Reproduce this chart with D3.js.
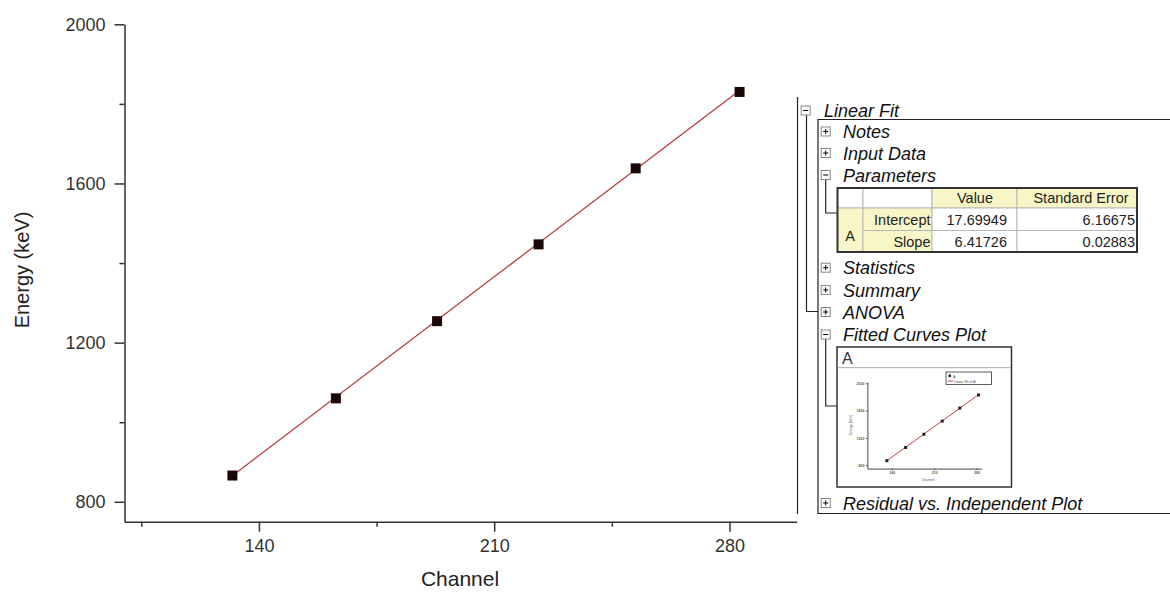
<!DOCTYPE html>
<html><head><meta charset="utf-8">
<script src="https://cdn.jsdelivr.net/npm/d3@7"></script>
<style>
html,body{margin:0;padding:0;background:#fff;}
svg{display:block;font-family:Arial,"Liberation Sans",sans-serif;}
</style></head><body>
<svg id="c" width="1170" height="593"></svg>
<script>
// ---- data ----
const channels = [132.1, 162.9, 193.0, 223.2, 252.1, 283.0];
const energies = [866, 1060, 1254, 1447, 1638, 1830];
const yTicks = [800, 1200, 1600, 2000];
const yMinorTicks = [1000, 1400, 1800];
const xTicks = [140, 210, 280];
const xMinorTicks = [105, 175, 245];
const paramNames = ["Intercept", "Slope"];
const paramValues = ["17.69949", "6.41726"];
const paramErrors = ["6.16675", "0.02883"];
const tableHeader = ["", "", "Value", "Standard Error"];
const tableGroup = "A";
const treeLabels = ["Linear Fit", "Notes", "Input Data", "Parameters", "Statistics", "Summary", "ANOVA", "Fitted Curves Plot", "Residual vs. Independent Plot"];
const treeExpanded = [true, false, false, true, false, false, false, true, false];
const xTitle = "Channel";
const yTitle = "Energy (keV)";
const miniTitle = "A";
const legendLabels = ["A", "Linear Fit of A"];

const intercept = +paramValues[0], slope = +paramValues[1];
const fmt = d3.format("d");

const svg = d3.select("#c");
svg.append("rect").attr("width",1170).attr("height",593).attr("fill","#fff");

// ---- main chart ----
const x = d3.scaleLinear().domain([100, 300]).range([124.5, 796.7]);
const y = d3.scaleLinear().domain([750, 2000]).range([521.7, 24.3]);
const axisColor = "#333";

const gy = svg.append("g").attr("transform", `translate(${x(100)},0)`)
  .call(d3.axisLeft(y).tickValues(yTicks).tickFormat(fmt).tickSize(10).tickSizeOuter(0).tickPadding(9));
const gym = svg.append("g").attr("transform", `translate(${x(100)},0)`)
  .call(d3.axisLeft(y).tickValues(yMinorTicks).tickSize(5).tickFormat(""));
gym.select(".domain").remove();
const gx = svg.append("g").attr("transform", `translate(0,${y(750)})`)
  .call(d3.axisBottom(x).tickValues(xTicks).tickFormat(fmt).tickSize(10).tickSizeOuter(0).tickPadding(8));
const gxm = svg.append("g").attr("transform", `translate(0,${y(750)})`)
  .call(d3.axisBottom(x).tickValues(xMinorTicks).tickSize(5).tickFormat(""));
gxm.select(".domain").remove();
[gy, gym, gx, gxm].forEach(g => {
  g.selectAll("path,line").attr("stroke", axisColor).attr("stroke-width", 1.5);
  g.selectAll("text").attr("fill", "#333").attr("font-size", 18).attr("font-family", "Arial, 'Liberation Sans', sans-serif");
});

// fit line
const xMin = d3.min(channels), xMax = d3.max(channels);
svg.append("line")
  .attr("x1", x(xMin)).attr("y1", y(intercept + slope * xMin))
  .attr("x2", x(xMax)).attr("y2", y(intercept + slope * xMax))
  .attr("stroke", "#b03a3a").attr("stroke-width", 1.2);

svg.append("g").selectAll("rect").data(channels).join("rect")
  .attr("x", (d) => x(d) - 5).attr("y", (d, i) => y(energies[i]) - 5)
  .attr("width", 10).attr("height", 10).attr("fill", "#1a0808");

svg.append("text").attr("x", 460).attr("y", 586).attr("text-anchor", "middle")
  .attr("font-size", 21).attr("fill", "#222").text(xTitle);
svg.append("text").attr("transform", "translate(29,270) rotate(-90)").attr("text-anchor", "middle")
  .attr("font-size", 20).attr("fill", "#222").text(yTitle);

// ---- report tree ----
const lineC = "#222";
const tree = svg.append("g");
tree.append("line").attr("x1", 797.5).attr("x2", 797.5).attr("y1", 97).attr("y2", 514).attr("stroke", lineC).attr("stroke-width", 1.2);
tree.append("path").attr("d", "M806.5,115 V311.5 H818").attr("fill", "none").attr("stroke", lineC).attr("stroke-width", 1.2);
tree.append("path").attr("d", "M1172,119.5 H818 V513.5 H1172").attr("fill", "none").attr("stroke", lineC).attr("stroke-width", 1.2);
tree.append("path").attr("d", "M825.7,180 V213 H837.5").attr("fill", "none").attr("stroke", lineC).attr("stroke-width", 1.2);
tree.append("path").attr("d", "M825.7,339 V406 H837").attr("fill", "none").attr("stroke", lineC).attr("stroke-width", 1.2);

const rowY = [110.5, 131.5, 153, 175, 267.7, 290, 312, 334.5, 503];
treeLabels.forEach((lab, i) => {
  const cx = i === 0 ? 805.7 : 825.7;
  const tx = i === 0 ? 824 : 843;
  const cy = rowY[i];
  tree.append("rect").attr("x", cx - 4.5).attr("y", cy - 4.5).attr("width", 9).attr("height", 9)
    .attr("fill", "#fff").attr("stroke", "#888").attr("stroke-width", 1);
  tree.append("line").attr("x1", cx - 2.5).attr("x2", cx + 2.5).attr("y1", cy).attr("y2", cy).attr("stroke", "#000");
  if (!treeExpanded[i]) tree.append("line").attr("x1", cx).attr("x2", cx).attr("y1", cy - 2.5).attr("y2", cy + 2.5).attr("stroke", "#000");
  tree.append("text").attr("x", tx).attr("y", cy + 6.5).attr("font-size", 18).attr("font-style", "italic")
    .attr("fill", "#111").text(lab);
});

// ---- parameter table ----
const colX = [837.5, 863, 932, 1017, 1137];
const rowYs = [188, 208, 230.5, 252];
const yellow = "#f8f6c6";
const tbl = svg.append("g").attr("font-size", 14.5).attr("fill", "#222");
function cell(c0, c1, r0, r1, fill) {
  tbl.append("rect").attr("x", colX[c0]).attr("y", rowYs[r0]).attr("width", colX[c1] - colX[c0])
    .attr("height", rowYs[r1] - rowYs[r0]).attr("fill", fill).attr("stroke", "#b8b8b8").attr("stroke-width", 1);
}
cell(0,1,0,1,"#fff"); cell(1,2,0,1,"#fff"); cell(2,3,0,1,yellow); cell(3,4,0,1,yellow);
cell(0,1,1,3,yellow);
paramNames.forEach((n, i) => { cell(1,2,i+1,i+2,yellow); cell(2,3,i+1,i+2,"#fff"); cell(3,4,i+1,i+2,"#fff"); });
tbl.append("rect").attr("x", colX[0]).attr("y", rowYs[0]).attr("width", colX[4] - colX[0]).attr("height", rowYs[3] - rowYs[0])
  .attr("fill", "none").attr("stroke", "#333").attr("stroke-width", 2);
const t = (xx, yy, s, anchor) => tbl.append("text").attr("x", xx).attr("y", yy).attr("text-anchor", anchor).attr("fill", "#222").text(s);
t(975, 203, tableHeader[2], "middle");
t(1081, 203, tableHeader[3], "middle");
t(850, 241, tableGroup, "middle");
paramNames.forEach((n, i) => {
  const by = [224.5, 247][i];
  t(930.5, by, n, "end");
  t(1007, by, paramValues[i], "end");
  t(1135, by, paramErrors[i], "end");
});

// ---- mini fitted-curves plot ----
const mini = svg.append("g");
mini.append("rect").attr("x", 837).attr("y", 347).attr("width", 174.5).attr("height", 140)
  .attr("fill", "#fff").attr("stroke", "#333").attr("stroke-width", 1.5);
mini.append("line").attr("x1", 837.7).attr("x2", 1010.8).attr("y1", 367.7).attr("y2", 367.7).attr("stroke", "#aaa");
mini.append("text").attr("x", 842).attr("y", 364).attr("font-size", 16).attr("fill", "#333").text(miniTitle);

const mx = d3.scaleLinear().domain([100, 288]).range([867.4, 981.6]);
const my = d3.scaleLinear().domain([750, 2020]).range([468.6, 382]);
const mgy = mini.append("g").attr("transform", `translate(${mx(100)},0)`)
  .call(d3.axisLeft(my).tickValues(yTicks).tickFormat(fmt).tickSize(1.5).tickSizeOuter(0).tickPadding(1.5));
const mgx = mini.append("g").attr("transform", `translate(0,${my(750)})`)
  .call(d3.axisBottom(mx).tickValues(xTicks).tickFormat(fmt).tickSize(1.5).tickSizeOuter(0).tickPadding(1.5));
[mgy, mgx].forEach(g => {
  g.selectAll("path,line").attr("stroke", "#333").attr("stroke-width", 0.9);
  g.selectAll("text").attr("font-size", 3.5).attr("fill", "#555").attr("font-weight", "bold");
});
mini.append("line").attr("x1", mx(xMin)).attr("y1", my(intercept + slope * xMin))
  .attr("x2", mx(xMax)).attr("y2", my(intercept + slope * xMax)).attr("stroke", "#c03030").attr("stroke-width", 0.9);
mini.append("g").selectAll("rect").data(channels).join("rect")
  .attr("x", d => mx(d) - 1.5).attr("y", (d, i) => my(energies[i]) - 1.5).attr("width", 3).attr("height", 3).attr("fill", "#222");
mini.append("text").attr("x", 928).attr("y", 481).attr("font-size", 3.5).attr("fill", "#555").attr("text-anchor","middle").text(xTitle);
mini.append("text").attr("transform", "translate(852,425) rotate(-90)").attr("font-size", 3.5).attr("fill", "#555").attr("text-anchor","middle").text(yTitle);
// legend
mini.append("rect").attr("x", 946).attr("y", 372).attr("width", 45.5).attr("height", 12.5).attr("fill", "#fff").attr("stroke", "#333").attr("stroke-width", 0.8);
mini.append("rect").attr("x", 948.5).attr("y", 374.5).attr("width", 2.5).attr("height", 2.5).attr("fill", "#222");
mini.append("text").attr("x", 953).attr("y", 377.5).attr("font-size", 3.5).attr("fill", "#444").text(legendLabels[0]);
mini.append("line").attr("x1", 947.5).attr("x2", 953).attr("y1", 381).attr("y2", 381).attr("stroke", "#c03030").attr("stroke-width", 0.9);
mini.append("text").attr("x", 954).attr("y", 382.5).attr("font-size", 3.5).attr("fill", "#444").text(legendLabels[1]);
</script>
</body></html>
